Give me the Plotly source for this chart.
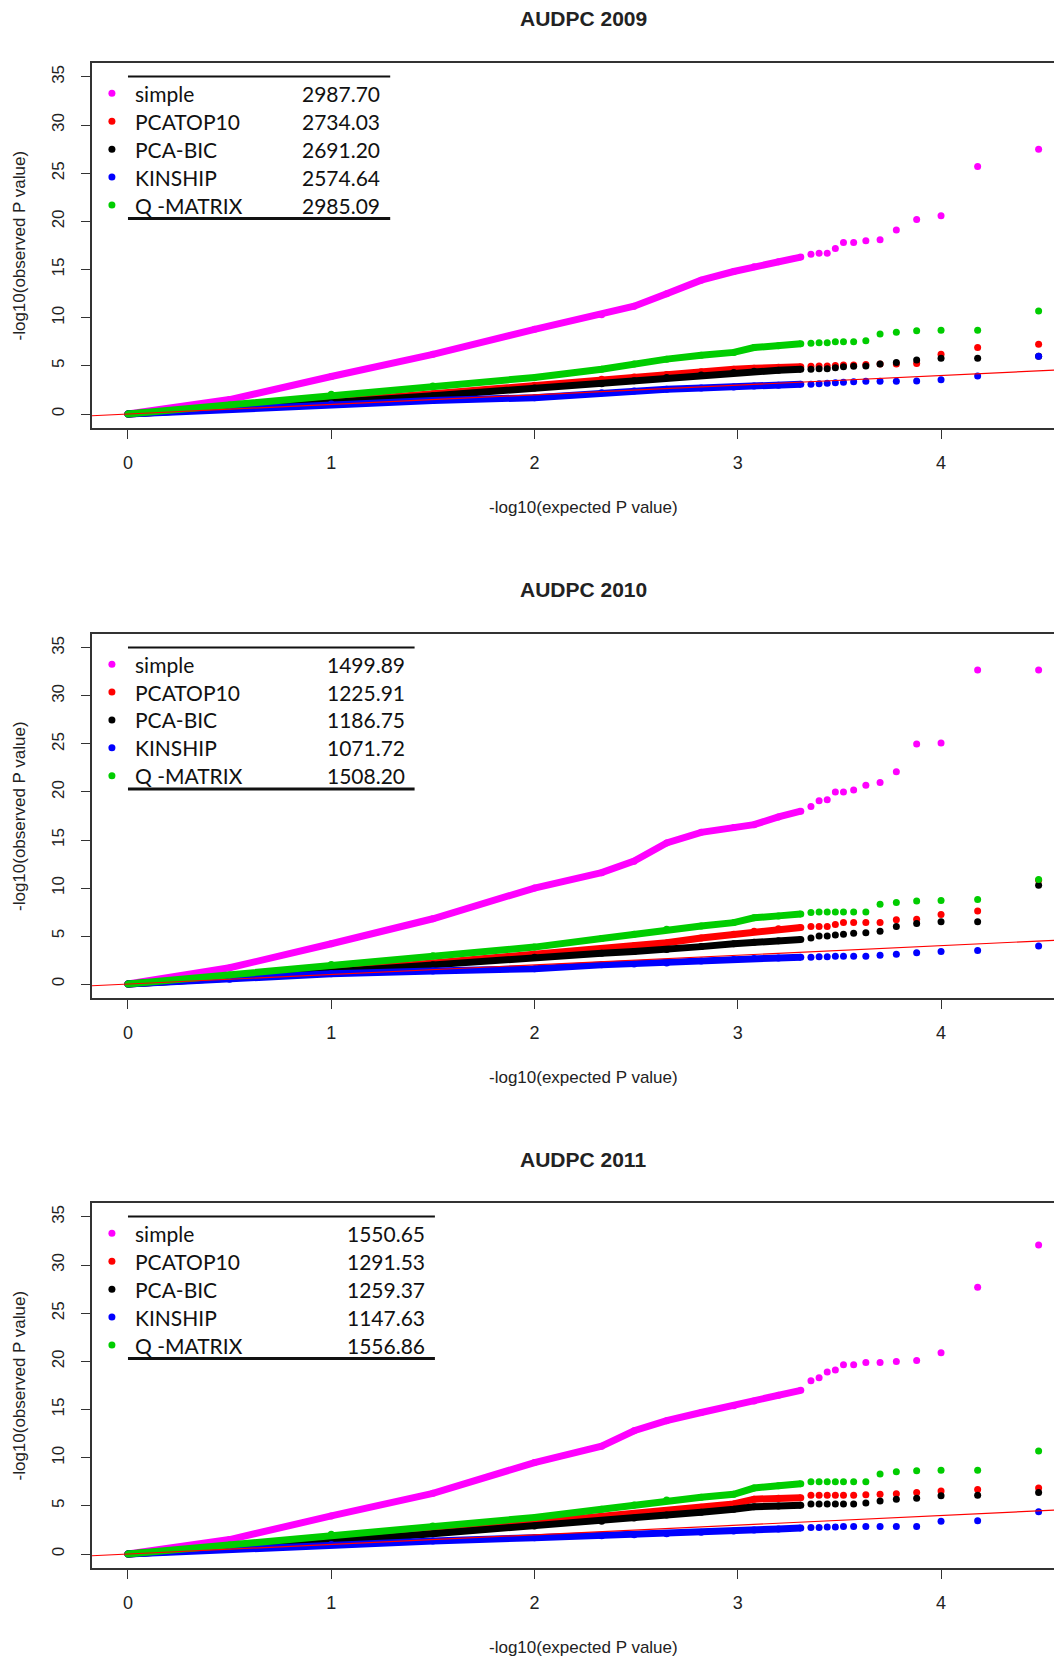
import plotly.graph_objects as go

# ---------------- data ----------------
TITLES = ["AUDPC 2009", "AUDPC 2010", "AUDPC 2011"]
METHODS = ["simple", "PCATOP10", "PCA-BIC", "KINSHIP", "Q -MATRIX"]
COLORS = ["#FF00FF", "#FF0000", "#000000", "#0000FF", "#00CD00"]
SCORES_2009 = ["2987.70", "2734.03", "2691.20", "2574.64", "2985.09"]
SCORES_2010 = ["1499.89", "1225.91", "1186.75", "1071.72", "1508.20"]
SCORES_2011 = ["1550.65", "1291.53", "1259.37", "1147.63", "1556.86"]

X_TICKS = [0, 1, 2, 3, 4]
Y_TICKS = [0, 5, 10, 15, 20, 25, 30, 35]

# expected -log10(p): dense part (read along the band) and the separated tail points
X_DENSE = [0, 0.5, 1.0, 1.5, 2.0, 2.33, 2.49, 2.65, 2.82, 2.98, 3.08, 3.2, 3.31]
X_TAIL = [3.36, 3.40, 3.44, 3.48, 3.52, 3.57, 3.63, 3.70, 3.78, 3.88, 4.00, 4.18, 4.48]

# 2009 observed -log10(p)
SIMPLE_2009_D = [0, 1.5, 3.9, 6.2, 8.8, 10.3, 11.2, 12.5, 13.9, 14.8, 15.3, 15.8, 16.3]
SIMPLE_2009_T = [16.6, 16.7, 16.7, 17.2, 17.8, 17.8, 18.0, 18.1, 19.1, 20.2, 20.6, 25.7, 27.5]
PCATOP_2009_D = [0, 0.6, 1.3, 2.1, 3.0, 3.6, 3.85, 4.1, 4.4, 4.65, 4.75, 4.85, 4.9]
PCATOP_2009_T = [4.95, 5.0, 5.0, 5.05, 5.1, 5.1, 5.15, 5.2, 5.2, 5.25, 6.2, 6.9, 7.25]
PCABIC_2009_D = [0, 0.55, 1.2, 1.9, 2.7, 3.15, 3.45, 3.8, 4.05, 4.3, 4.45, 4.55, 4.65]
PCABIC_2009_T = [4.65, 4.7, 4.7, 4.8, 4.9, 4.95, 5.0, 5.2, 5.35, 5.6, 5.8, 5.8, 6.0]
KIN_2009_D = [0, 0.5, 1.05, 1.4, 1.7, 2.2, 2.4, 2.57, 2.7, 2.8, 2.9, 3.0, 3.1]
KIN_2009_T = [3.1, 3.15, 3.2, 3.25, 3.3, 3.35, 3.4, 3.4, 3.4, 3.44, 3.55, 3.96, 6.0]
QMAT_2009_D = [0, 0.95, 2.05, 2.9, 3.8, 4.65, 5.2, 5.7, 6.1, 6.4, 6.9, 7.1, 7.3]
QMAT_2009_T = [7.35, 7.4, 7.4, 7.5, 7.5, 7.5, 7.6, 8.3, 8.5, 8.65, 8.7, 8.7, 10.7]

# 2010
SIMPLE_2010_D = [0, 1.7, 4.2, 6.8, 10.0, 11.6, 12.8, 14.7, 15.8, 16.3, 16.6, 17.4, 18.0]
SIMPLE_2010_T = [18.5, 19.1, 19.2, 20.0, 20.0, 20.2, 20.7, 21.0, 22.1, 25.0, 25.1, 32.7, 32.7]
PCATOP_2010_D = [0, 0.65, 1.35, 2.2, 3.1, 3.7, 4.0, 4.3, 4.8, 5.2, 5.5, 5.75, 5.9]
PCATOP_2010_T = [6.0, 6.0, 6.0, 6.2, 6.4, 6.4, 6.4, 6.4, 6.7, 6.75, 7.25, 7.6, 10.8]
PCABIC_2010_D = [0, 0.6, 1.25, 2.0, 2.8, 3.2, 3.4, 3.6, 3.9, 4.2, 4.35, 4.5, 4.65]
PCABIC_2010_T = [4.8, 5.0, 5.0, 5.1, 5.2, 5.3, 5.35, 5.5, 6.0, 6.3, 6.5, 6.5, 10.3]
KIN_2010_D = [0, 0.5, 1.07, 1.35, 1.6, 2.0, 2.1, 2.2, 2.4, 2.57, 2.65, 2.72, 2.8]
KIN_2010_T = [2.8, 2.85, 2.85, 2.9, 2.9, 2.9, 2.9, 3.0, 3.1, 3.26, 3.4, 3.5, 3.96]
QMAT_2010_D = [0, 0.95, 2.05, 2.95, 3.85, 4.75, 5.2, 5.7, 6.05, 6.4, 6.9, 7.1, 7.3]
QMAT_2010_T = [7.45, 7.5, 7.5, 7.5, 7.5, 7.5, 7.5, 8.3, 8.5, 8.65, 8.7, 8.8, 10.9]

# 2011
SIMPLE_2011_D = [0, 1.5, 3.96, 6.3, 9.5, 11.2, 12.8, 13.85, 14.7, 15.4, 15.9, 16.5, 17.0]
SIMPLE_2011_T = [18.0, 18.3, 18.9, 19.1, 19.65, 19.65, 19.9, 19.9, 20.0, 20.1, 20.9, 27.7, 32.1]
PCATOP_2011_D = [0, 0.65, 1.4, 2.3, 3.26, 3.8, 4.15, 4.5, 4.85, 5.2, 5.7, 5.8, 5.85]
PCATOP_2011_T = [6.1, 6.1, 6.1, 6.1, 6.1, 6.1, 6.15, 6.2, 6.25, 6.4, 6.55, 6.7, 6.85]
PCABIC_2011_D = [0, 0.6, 1.3, 2.1, 2.9, 3.4, 3.75, 4.05, 4.35, 4.65, 4.9, 5.0, 5.07]
PCABIC_2011_T = [5.2, 5.2, 5.2, 5.2, 5.2, 5.2, 5.3, 5.5, 5.7, 5.8, 6.05, 6.1, 6.4]
KIN_2011_D = [0, 0.5, 1.0, 1.35, 1.7, 1.9, 2.0, 2.1, 2.25, 2.4, 2.5, 2.6, 2.7]
KIN_2011_T = [2.75, 2.75, 2.8, 2.8, 2.85, 2.85, 2.85, 2.85, 2.85, 2.85, 3.4, 3.45, 4.4]
QMAT_2011_D = [0, 0.95, 2.05, 2.9, 3.8, 4.65, 5.1, 5.6, 5.9, 6.2, 6.85, 7.1, 7.3]
QMAT_2011_T = [7.5, 7.5, 7.5, 7.5, 7.5, 7.5, 7.5, 8.3, 8.55, 8.65, 8.7, 8.7, 10.7]

PANELS = [
    (SCORES_2009, [SIMPLE_2009_D, PCATOP_2009_D, PCABIC_2009_D, KIN_2009_D, QMAT_2009_D],
     [SIMPLE_2009_T, PCATOP_2009_T, PCABIC_2009_T, KIN_2009_T, QMAT_2009_T]),
    (SCORES_2010, [SIMPLE_2010_D, PCATOP_2010_D, PCABIC_2010_D, KIN_2010_D, QMAT_2010_D],
     [SIMPLE_2010_T, PCATOP_2010_T, PCABIC_2010_T, KIN_2010_T, QMAT_2010_T]),
    (SCORES_2011, [SIMPLE_2011_D, PCATOP_2011_D, PCABIC_2011_D, KIN_2011_D, QMAT_2011_D],
     [SIMPLE_2011_T, PCATOP_2011_T, PCABIC_2011_T, KIN_2011_T, QMAT_2011_T]),
]

# ---------------- layout constants ----------------
# The page body has an 8px margin, so the figure is laid out in window pixels minus OFF.
OFF = 8
WIN_W, WIN_H = 1062, 1659
W, H = WIN_W - OFF, WIN_H - OFF
BOX_LEFT = 92
BOX_TOP = [63, 634, 1203]
BOX_BOT = [428, 998, 1568]
TITLE_Y = [19, 589, 1159]
XTITLE_Y = [508, 1077, 1647]
TITLE_X = 583
YTITLE_X = 19
LEG_LINE_X1 = [1.29, 1.41, 1.51]
LEG_NUM_X = [1.25, 1.374, 1.473]
LEG_ROW_Y = [33.3, 30.4, 27.5, 24.6, 21.7]
LEG_TOP_Y = 35.05
LEG_BOT_Y = 20.3
XR = [-0.177, 4.595]
YR = [-1.45, 36.45]
DOT = 7


def px_x(px):
    return (px - OFF) / W


def px_y(py):
    return 1 - (py - OFF) / H


AX_FONT = dict(family="Liberation Sans, Arial, sans-serif", size=18, color="#222")
LEG_FONT = dict(family="Lato, Carlito, sans-serif", size=21, color="#111")

fig = go.Figure()
layout = dict(
    width=W, height=H, margin=dict(l=0, r=0, t=0, b=0),
    paper_bgcolor="white", plot_bgcolor="white", showlegend=False,
)
annotations = []
shapes = []

for p in range(3):
    sfx = "" if p == 0 else str(p + 1)
    xa, ya = "x" + sfx, "y" + sfx
    scores, dense, tail = PANELS[p]
    dom_y = [px_y(BOX_BOT[p]), px_y(BOX_TOP[p])]
    layout["xaxis" + sfx] = dict(
        domain=[px_x(BOX_LEFT), 1.0], range=XR, anchor=ya,
        tickmode="array", tickvals=X_TICKS, ticks="outside", ticklen=9, tickwidth=1.3,
        tickcolor="#333", showline=True, mirror=True, linecolor="#333", linewidth=1.6,
        showgrid=False, zeroline=False, tickfont=AX_FONT, ticklabelstandoff=9,
    )
    layout["yaxis" + sfx] = dict(
        domain=dom_y, range=YR, anchor=xa,
        tickmode="array", tickvals=Y_TICKS, ticks="outside", ticklen=9, tickwidth=1.3,
        tickcolor="#333", showline=True, mirror=False, linecolor="#333", linewidth=1.6,
        showgrid=False, zeroline=False, tickangle=-90,
        tickfont=dict(AX_FONT, size=17), ticklabelstandoff=10,
    )

    for m in range(5):
        fig.add_trace(go.Scatter(
            x=X_DENSE, y=dense[m], mode="lines+markers", xaxis=xa, yaxis=ya,
            line=dict(color=COLORS[m], width=DOT), marker=dict(color=COLORS[m], size=DOT),
            hoverinfo="skip"))
        fig.add_trace(go.Scatter(
            x=X_TAIL, y=tail[m], mode="markers", xaxis=xa, yaxis=ya,
            marker=dict(color=COLORS[m], size=DOT), hoverinfo="skip"))
    # y = x reference line
    fig.add_trace(go.Scatter(x=[XR[0], XR[1]], y=[XR[0], XR[1]], mode="lines",
                             xaxis=xa, yaxis=ya, line=dict(color="#FF0000", width=1.2),
                             hoverinfo="skip"))
    # legend dots
    fig.add_trace(go.Scatter(x=[-0.079] * 5, y=LEG_ROW_Y, mode="markers", xaxis=xa, yaxis=ya,
                             marker=dict(color=COLORS, size=DOT), hoverinfo="skip"))
    for m in range(5):
        annotations.append(dict(x=0.025, y=LEG_ROW_Y[m], xref=xa, yref=ya, text=METHODS[m],
                                showarrow=False, xanchor="left", yanchor="middle", font=LEG_FONT))
        annotations.append(dict(x=LEG_NUM_X[p], y=LEG_ROW_Y[m], xref=xa, yref=ya, text=scores[m],
                                showarrow=False, xanchor="right", yanchor="middle", font=LEG_FONT))
    shapes.append(dict(type="line", xref=xa, yref=ya, x0=0, x1=LEG_LINE_X1[p],
                       y0=LEG_TOP_Y, y1=LEG_TOP_Y, line=dict(color="#111", width=2)))
    shapes.append(dict(type="line", xref=xa, yref=ya, x0=0, x1=LEG_LINE_X1[p],
                       y0=LEG_BOT_Y, y1=LEG_BOT_Y, line=dict(color="#111", width=3)))

    # titles
    annotations.append(dict(x=px_x(TITLE_X), y=px_y(TITLE_Y[p]), xref="paper", yref="paper",
                            text="<b>" + TITLES[p] + "</b>", showarrow=False,
                            xanchor="center", yanchor="middle",
                            font=dict(family="Liberation Sans, Arial, sans-serif", size=21, color="#222")))
    annotations.append(dict(x=px_x(TITLE_X), y=px_y(XTITLE_Y[p]), xref="paper", yref="paper",
                            text="-log10(expected P value)", showarrow=False,
                            xanchor="center", yanchor="middle", font=dict(AX_FONT, size=17)))
    annotations.append(dict(x=px_x(YTITLE_X), y=px_y((BOX_TOP[p] + BOX_BOT[p]) / 2),
                            xref="paper", yref="paper", text="-log10(observed P value)",
                            showarrow=False, textangle=-90, xanchor="center", yanchor="middle",
                            font=dict(AX_FONT, size=17)))

layout["annotations"] = annotations
layout["shapes"] = shapes
fig.update_layout(**layout)
fig.write_html("out.html")
